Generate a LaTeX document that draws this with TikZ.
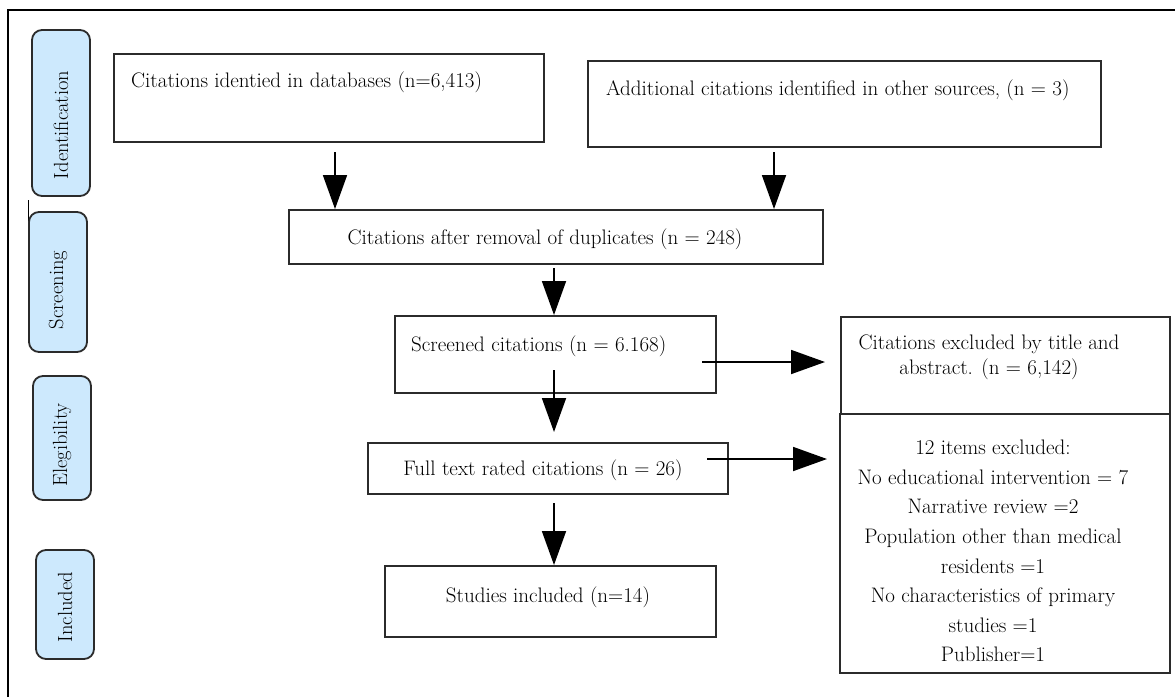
\documentclass[tikz,border=0pt]{standalone}
\usetikzlibrary{arrows.meta,calc}
\definecolor{stage}{HTML}{CDE9FD}
\definecolor{edge}{HTML}{2B2B2B}
\begin{document}
\begin{tikzpicture}[x=1pt,y=-1pt,
  box/.style={draw=edge,line width=1.8pt,rectangle,inner sep=0pt},
  stagebox/.style={draw=edge,fill=stage,line width=1.8pt,rounded corners=10pt},
  stagetext/.style={rotate=90,font=\fontsize{20.5}{22}\selectfont},
  txt/.style={font=\fontsize{21}{24}\selectfont,inner sep=0pt},
  arr/.style={draw=black,line width=1.8pt,-{Triangle[length=34pt,width=24pt]}}]
\useasboundingbox (0,0) rectangle (1175,697);
% frame
\draw[line width=1.2pt] (8,697) -- (8,10) -- (1175,10);
\draw[line width=1pt] (28,200) -- (28,226);
% stage labels
\draw[stagebox] (32,30) rectangle (90,196);
\node[stagetext] (sid) at (61,125) {Identification};
\draw[stagebox] (29,212) rectangle (87,352);
\node[stagetext] (ssc) at (58,290) {Screening};
\draw[stagebox] (33,376) rectangle (91,500);
\node[stagetext] (sel) at (62,445) {Elegibility};
\draw[stagebox] (36,550) rectangle (94,659);
\node[stagetext] (sin) at (65,607) {Included};
% boxes
\node[box,anchor=north west,minimum width=430pt,minimum height=88pt] (b1) at (113,53) {};
\node[txt,anchor=west] (t1) at (131,82) {Citations identied in databases (n=6,413)};
\node[box,anchor=north west,minimum width=513pt,minimum height=86pt] (b2) at (587,60) {};
\node[txt,anchor=west] (t2) at (606,90) {Additional citations identified in other sources, (n = 3)};
\node[box,anchor=north west,minimum width=534pt,minimum height=54pt] (b3) at (288,209) {};
\node[txt] (t3) at (545,239) {Citations after removal of duplicates (n = 248)};
\node[box,anchor=north west,minimum width=321pt,minimum height=77pt] (b4) at (394,315) {};
\node[txt,anchor=west] (t4) at (411,346) {Screened citations (n = 6.168)};
\node[box,anchor=north west,minimum width=360pt,minimum height=51pt] (b5) at (367,442) {};
\node[txt] (t5) at (543,470) {Full text rated citations (n = 26)};
\node[box,anchor=north west,minimum width=331pt,minimum height=71pt] (b6) at (384,565) {};
\node[txt] (t6) at (548,597) {Studies included (n=14)};
\node[box,anchor=north west,minimum width=329pt,minimum height=97pt] (b7) at (840,316) {};
\node[txt,align=center,font=\fontsize{21}{25}\selectfont] (t7) at (989,357) {Citations excluded by title and\\abstract. (n = 6,142)};
\node[box,anchor=north west,minimum width=330pt,minimum height=259pt] (b8) at (839,413) {};
\node[txt,align=center,font=\fontsize{21}{29.6}\selectfont] (t8) at (993,551) {12 items excluded:\\No educational intervention = 7\\Narrative review =2\\Population other than medical\\residents =1\\No characteristics of primary\\studies =1\\Publisher=1};
% arrow start points
\coordinate (s1) at (335,152);
\coordinate (s2) at (774,152);
\coordinate (s3) at (554,268);
\coordinate (s4) at (554,370);
\coordinate (s5) at (554,503);
\coordinate (h1) at (702,362);
\coordinate (h2) at (707,459);
% arrows
\draw[arr] (s1) -- (s1 |- b3.north);
\draw[arr] (s2) -- (s2 |- b3.north);
\draw[arr] (s3) -- (s3 |- b4.north);
\draw[arr,shorten >=10pt] (s4) -- (s4 |- b5.north);
\draw[arr] (s5) -- (s5 |- b6.north);
\draw[arr,shorten >=15pt] (h1) -- (h1 -| b7.west);
\draw[arr,shorten >=12pt] (h2) -- (h2 -| b8.west);
\end{tikzpicture}
\end{document}
